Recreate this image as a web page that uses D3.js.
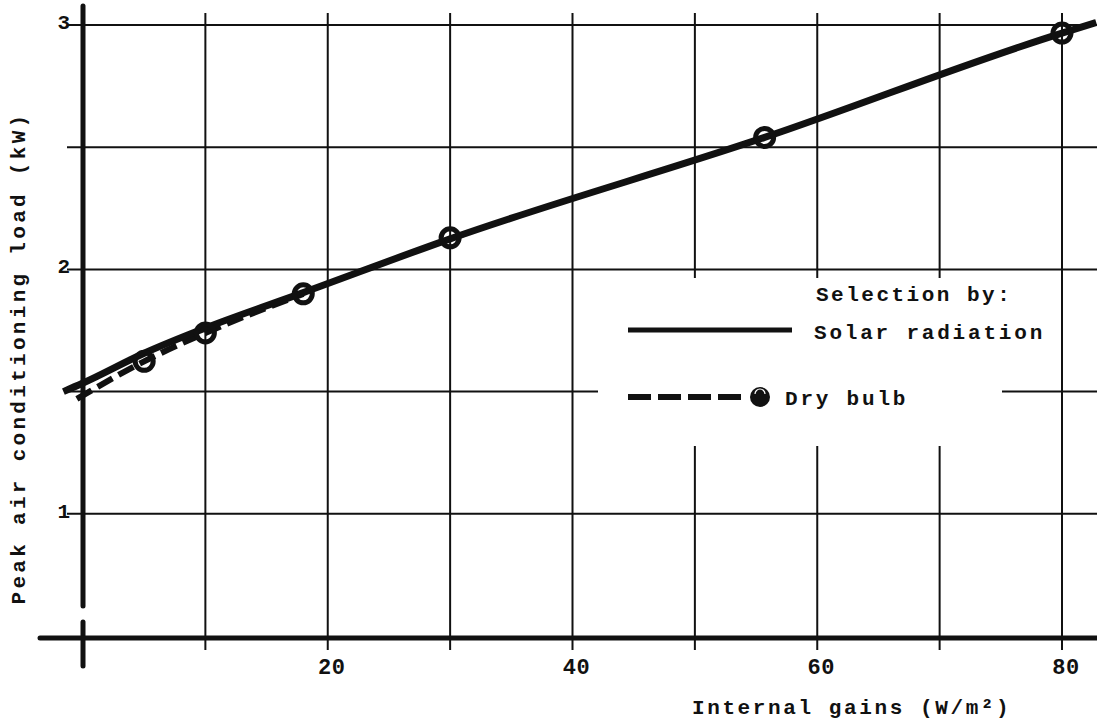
<!DOCTYPE html>
<html>
<head>
<meta charset="utf-8">
<script src="https://cdn.jsdelivr.net/npm/d3@7"></script>
<style>
    html, body { margin: 0; padding: 0; background: #fff; }
    svg { display: block; }
    text { font-family: "Liberation Mono", "DejaVu Sans Mono", monospace; font-weight: bold; fill: #111; }
</style>
</head>
<body>
<div id="chart"></div>
<script>
'use strict';

// values
const gainGrid = [10, 20, 30, 40, 50, 60, 70, 80];
const gainLabels = [20, 40, 60, 80];
const loadGrid = [1, 1.5, 2, 2.5, 3];
const loadLabels = [1, 2, 3];

// Selection by solar radiation (solid line)
const solarGains = [-1.6, 0, 5, 10, 18, 30, 55.7, 80, 82.8];
const solarLoad = [1.50, 1.535, 1.657, 1.76, 1.905, 2.125, 2.54, 2.967, 3.01];

// Selection by dry bulb (dashed line with circles)
const dryGains = [-0.5, 5, 10, 18, 30, 55.7, 80];
const dryLoad = [1.47, 1.624, 1.74, 1.9, 2.129, 2.54, 2.967];

const width = 1097, height = 724;
const ink = '#111';

let svg = d3.select('#chart').append('svg')
    .attr('width', width)
    .attr('height', height);

let x = d3.scaleLinear().domain([0, 80]).range([83, 1062]);
let y = d3.scaleLinear().domain([0.5, 3]).range([636, 25]);

let solar = solarGains.map((g, i) => ({ gain: g, load: solarLoad[i] }));
let dry = dryGains.map((g, i) => ({ gain: g, load: dryLoad[i] }));

// grid
let grid = svg.append('g').attr('stroke', ink).attr('stroke-width', 2);

grid.selectAll('line.v')
    .data(gainGrid)
    .join('line')
    .attr('class', 'v')
    .attr('x1', d => x(d)).attr('x2', d => x(d))
    .attr('y1', 13).attr('y2', y(0.5) + 14);

grid.selectAll('line.h')
    .data(loadGrid)
    .join('line')
    .attr('class', 'h')
    .attr('x1', x(0) - 16).attr('x2', width)
    .attr('y1', d => y(d)).attr('y2', d => y(d));

// blank patch behind the legend (the drawing leaves gaps there)
svg.append('rect')
    .attr('x', 598).attr('y', 278)
    .attr('width', 404).attr('height', 168)
    .attr('fill', '#fff');

// axes
let axes = svg.append('g').attr('stroke', ink).attr('stroke-linecap', 'round');

axes.append('line')
    .attr('x1', x(0)).attr('x2', x(0))
    .attr('y1', 6).attr('y2', 606)
    .attr('stroke-width', 5);

axes.append('line')
    .attr('x1', x(0)).attr('x2', x(0))
    .attr('y1', 622).attr('y2', 666)
    .attr('stroke-width', 5);

axes.append('line')
    .attr('x1', 40).attr('x2', width)
    .attr('y1', y(0.5) + 2).attr('y2', y(0.5) + 2)
    .attr('stroke-width', 5);

svg.selectAll('text.xtick')
    .data(gainLabels)
    .join('text')
    .attr('class', 'xtick')
    .attr('x', d => x(d) + 4)
    .attr('y', 674)
    .attr('text-anchor', 'middle')
    .style('font-size', '22px')
    .style('letter-spacing', '0.5px')
    .text(d => d);

svg.selectAll('text.ytick')
    .data(loadLabels)
    .join('text')
    .attr('class', 'ytick')
    .attr('x', 70)
    .attr('y', d => y(d) + 4)
    .attr('text-anchor', 'end')
    .style('font-size', '21px')
    .text(d => d);

svg.append('text')
    .attr('transform', 'translate(25, 358) rotate(-90)')
    .attr('text-anchor', 'middle')
    .style('font-size', '21px')
    .style('letter-spacing', '3.3px')
    .text('Peak air conditioning load (kW)');

svg.append('text')
    .attr('x', 692)
    .attr('y', 714)
    .style('font-size', '21px')
    .style('letter-spacing', '2.6px')
    .text('Internal gains (W/m²)');

// series
let line = d3.line()
    .x(d => x(d.gain))
    .y(d => y(d.load))
    .curve(d3.curveMonotoneX);

// the dashed curve only shows where it leaves the solid one
svg.append('path')
    .datum(dry.filter(d => d.gain <= 18))
    .attr('d', line)
    .attr('fill', 'none')
    .attr('stroke', ink)
    .attr('stroke-width', 6)
    .attr('stroke-dasharray', '17,7');

svg.append('path')
    .datum(solar)
    .attr('d', line)
    .attr('fill', 'none')
    .attr('stroke', ink)
    .attr('stroke-width', 7);

svg.selectAll('circle.pt')
    .data(dry.filter(d => d.gain > 0))
    .join('circle')
    .attr('class', 'pt')
    .attr('cx', d => x(d.gain))
    .attr('cy', d => y(d.load))
    .attr('r', 9)
    .attr('fill', 'none')
    .attr('stroke', ink)
    .attr('stroke-width', 5);

// legend
let legend = svg.append('g');

legend.append('text')
    .attr('x', 816).attr('y', 301)
    .style('font-size', '21px')
    .style('letter-spacing', '2.5px')
    .text('Selection by:');

legend.append('line')
    .attr('x1', 628).attr('x2', 792)
    .attr('y1', 330).attr('y2', 330)
    .attr('stroke', ink)
    .attr('stroke-width', 5);

legend.append('text')
    .attr('x', 814).attr('y', 339)
    .style('font-size', '21px')
    .style('letter-spacing', '2.8px')
    .text('Solar radiation');

legend.append('line')
    .attr('x1', 628).attr('x2', 742)
    .attr('y1', 397).attr('y2', 397)
    .attr('stroke', ink)
    .attr('stroke-width', 6)
    .attr('stroke-dasharray', '23,7');

legend.append('circle')
    .attr('cx', 760).attr('cy', 397)
    .attr('r', 10)
    .attr('fill', ink);

legend.append('path')
    .attr('d', 'M755,394 A5,5 0 0 1 765,394')
    .attr('fill', 'none')
    .attr('stroke', '#fff')
    .attr('stroke-width', 1.2);

legend.append('text')
    .attr('x', 785).attr('y', 405)
    .style('font-size', '21px')
    .style('letter-spacing', '2.8px')
    .text('Dry bulb');
</script>
</body>
</html>
